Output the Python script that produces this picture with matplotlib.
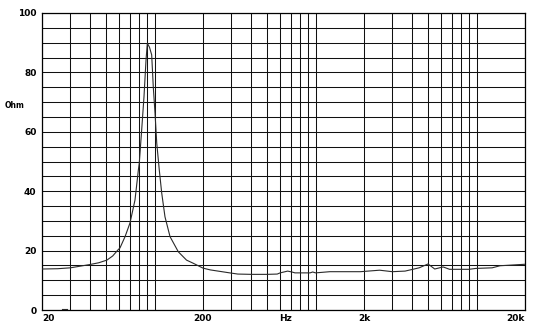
import matplotlib
matplotlib.use('Agg')
import numpy as np
from matplotlib import pyplot as plt
from matplotlib import transforms

# impedance curve
freq = [20, 25, 30, 39.6, 45, 50.6, 55, 59.2, 61, 65.6, 70.4, 75.6, 79.3, 80.4,
        83.2, 86, 88.5, 90.2, 93, 96, 98.2, 100.7, 103.2, 107.1, 110.8, 116.1,
        124.8, 140.5, 158, 173, 200, 222, 293, 329, 400, 500, 578, 603, 671,
        713, 745, 925, 960, 1000, 1228, 1500, 1900, 2500, 3000, 3600, 4400,
        5000, 5500, 6200, 6800, 9000, 9900, 12500, 14000, 20000]
ohm = [13.8, 13.9, 14.2, 15.3, 15.9, 16.8, 18.2, 20.2, 20.9, 24.7, 29.3, 37.0,
       47.0, 49.5, 60.6, 71.8, 84.0, 89.8, 88.5, 85.9, 75.2, 66.3, 56.2, 47.0,
       39.4, 31.4, 24.7, 19.6, 16.8, 15.8, 14.1, 13.5, 12.5, 12.1, 12.0, 12.0,
       12.1, 12.5, 13.1, 12.8, 12.5, 12.5, 12.8, 12.5, 12.9, 12.9, 12.9, 13.4,
       12.9, 13.1, 14.2, 15.5, 13.8, 14.5, 13.7, 13.7, 14.0, 14.2, 14.9, 15.4]

# short stub near the bottom left
stub_freq = [26.5, 28.5]
stub_ohm = [0.5, 0.5]

x_ticks = [20, 200, 2000, 20000]
x_labels = ['20', '200', '2k', '20k']
y_ticks = [0, 20, 40, 60, 80, 100]

fig = plt.figure(figsize=(5.4, 3.35), dpi=100)
ax = fig.add_axes([42/540, 25/335, 483/540, 297/335])
ax.set_xscale('log')
ax.set_xlim(20, 20000)
ax.set_ylim(0, 100)

grid_kw = dict(color='#111111', lw=0.75, zorder=1)
for decade in [10, 100, 1000, 10000]:
    for m in range(1, 10):
        f = decade * m
        if 20 <= f <= 20000:
            ax.axvline(f, **grid_kw)
for v in np.arange(0, 101, 5):
    ax.axhline(v, **grid_kw)

ax.plot(freq, ohm, color='#2a2a2a', lw=0.8, zorder=3)
ax.plot(stub_freq, stub_ohm, color='#2a2a2a', lw=0.8, zorder=3)

for s in ax.spines.values():
    s.set_color('black')
    s.set_linewidth(0.9)

ax.set_xticks(x_ticks)
ax.set_xticklabels(x_labels)
ax.xaxis.set_minor_locator(plt.NullLocator())
ax.set_yticks(y_ticks)
ax.tick_params(length=0, labelsize=6.5, pad=4)
ax.tick_params(axis='x', pad=3)
for lab in ax.get_xticklabels() + ax.get_yticklabels():
    lab.set_fontweight('bold')
xl = ax.get_xticklabels()
xl[0].set_ha('left')
xl[-1].set_ha('right')

trans = transforms.blended_transform_factory(ax.transData, ax.transAxes)
ax.text(650, -0.015, 'Hz', transform=trans, ha='center', va='top',
        fontsize=6.5, fontweight='bold')
ax.text(-0.077, 0.69, 'Ohm', transform=ax.transAxes, ha='left', va='center',
        fontsize=5.5, fontweight='bold')

fig.savefig('out.png', dpi=100)
